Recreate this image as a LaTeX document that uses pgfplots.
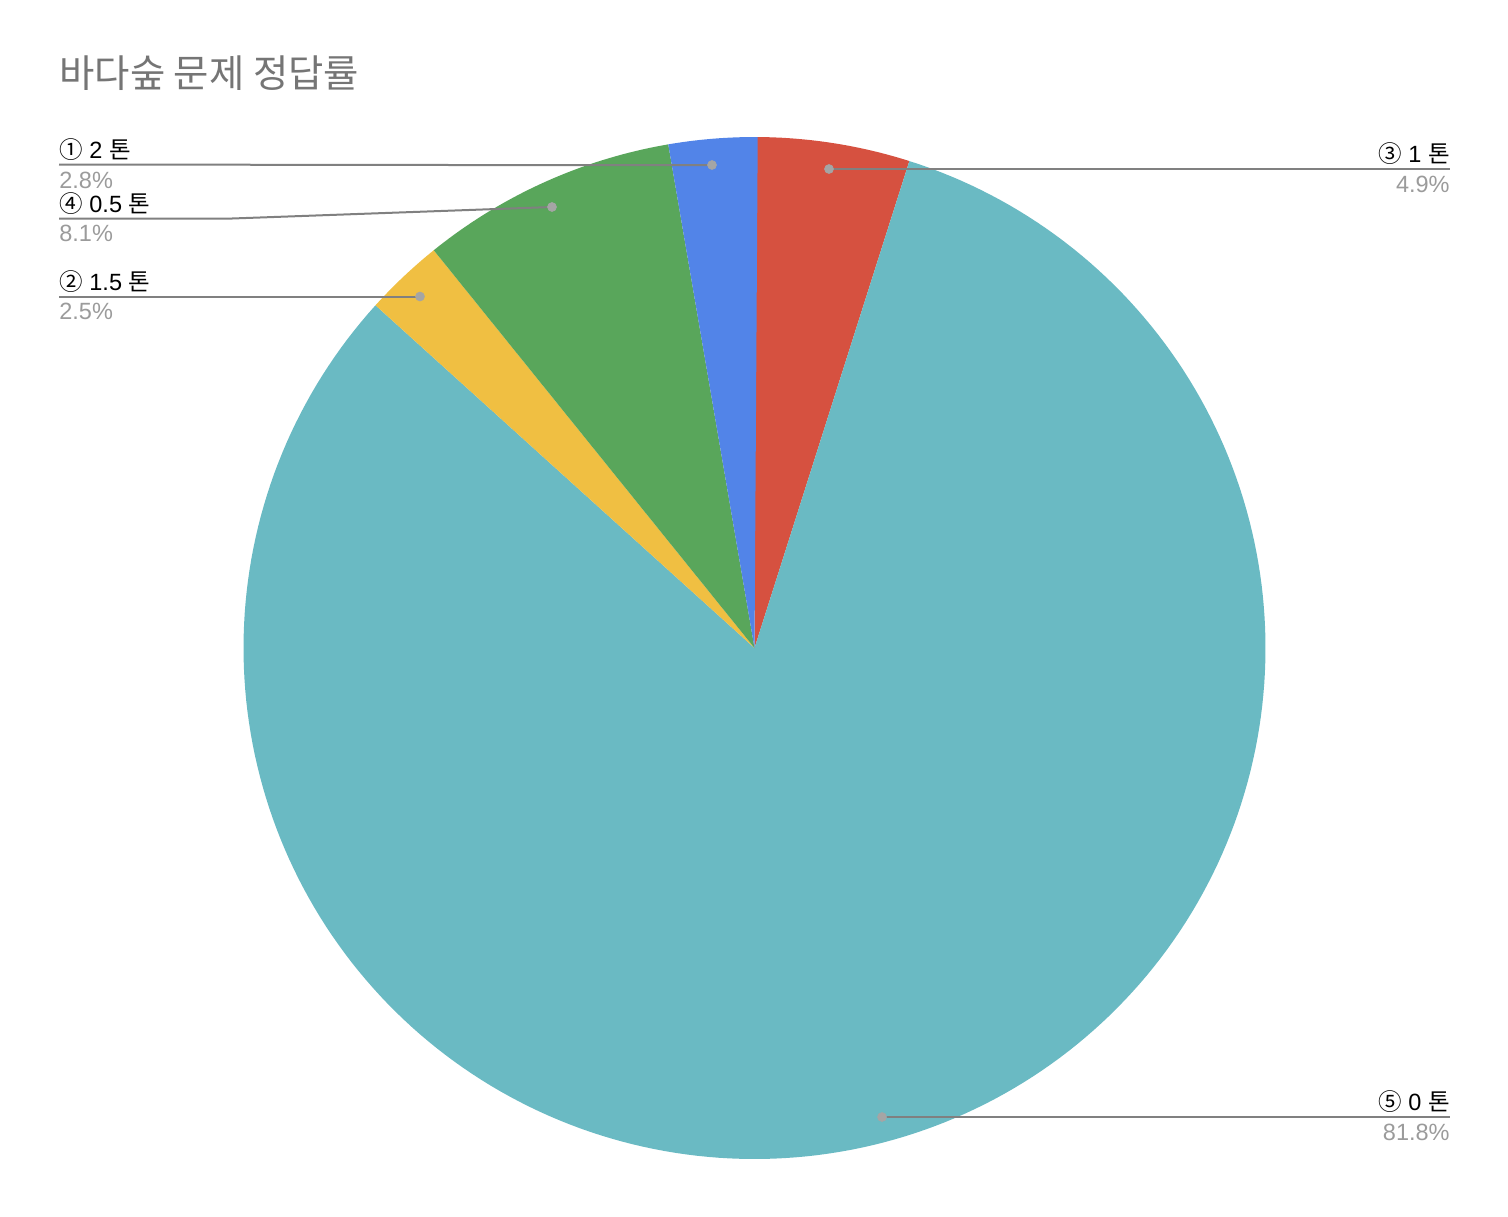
\documentclass[border=0pt]{standalone}
\usepackage{fontspec}
\setmainfont{Liberation Sans}
\newfontfamily\kr{Noto Sans CJK KR}
\usepackage{pgfplots}
\pgfplotsset{compat=1.18}

\definecolor{cRed}{RGB}{214,81,64}
\definecolor{cTeal}{RGB}{106,186,195}
\definecolor{cYellow}{RGB}{240,191,66}
\definecolor{cGreen}{RGB}{89,166,91}
\definecolor{cBlue}{RGB}{82,132,232}
\definecolor{leader}{RGB}{128,128,128}
\definecolor{dotc}{RGB}{165,165,165}
\definecolor{pctc}{RGB}{155,155,155}
\definecolor{titlec}{RGB}{117,117,117}

% shares in percent, clockwise from 12 o'clock
\def\vRed{4.9}
\def\vTeal{81.8}
\def\vYellow{2.5}
\def\vGreen{8.1}
\def\vBlue{2.8}

% slice boundary angles
\pgfmathsetmacro\aA{90}
\pgfmathsetmacro\aB{\aA-3.6*\vRed}
\pgfmathsetmacro\aC{\aB-3.6*\vTeal}
\pgfmathsetmacro\aD{\aC-3.6*\vYellow}
\pgfmathsetmacro\aE{\aD-3.6*\vGreen}
\pgfmathsetmacro\aF{\aE-3.6*\vBlue}

\newcommand\lbl{\fontsize{11.75}{14}\selectfont}

\begin{document}
\begin{tikzpicture}
\begin{axis}[
    scale only axis,
    width=754pt, height=608pt,
    xmin=0, xmax=1508, ymin=0, ymax=1216,
    y dir=reverse,
    hide axis,
    clip=false,
]
\addplot[draw=none, forget plot] coordinates {(0,0) (1508,1216)};

% slices
\addplot[fill=cRed, draw=none, domain=\aB:\aA, samples=30, variable=\t]
    ({754.5+511*cos(\t)}, {648-511*sin(\t)}) -- (axis cs:754.5,648) -- cycle;
\addplot[fill=cTeal, draw=none, domain=\aC:\aB, samples=240, variable=\t]
    ({754.5+511*cos(\t)}, {648-511*sin(\t)}) -- (axis cs:754.5,648) -- cycle;
\addplot[fill=cYellow, draw=none, domain=\aD:\aC, samples=20, variable=\t]
    ({754.5+511*cos(\t)}, {648-511*sin(\t)}) -- (axis cs:754.5,648) -- cycle;
\addplot[fill=cGreen, draw=none, domain=\aE:\aD, samples=40, variable=\t]
    ({754.5+511*cos(\t)}, {648-511*sin(\t)}) -- (axis cs:754.5,648) -- cycle;
\addplot[fill=cBlue, draw=none, domain=\aF:\aE, samples=20, variable=\t]
    ({754.5+511*cos(\t)}, {648-511*sin(\t)}) -- (axis cs:754.5,648) -- cycle;

% leader lines
\addplot[leader, line width=1pt] coordinates {(59,164.5) (455,165) (712,165)};
\addplot[leader, line width=1pt] coordinates {(59,218.5) (232,218.5) (552,207)};
\addplot[leader, line width=1pt] coordinates {(59,296.5) (420,296.5)};
\addplot[leader, line width=1pt] coordinates {(829,169) (1450,169)};
\addplot[leader, line width=1pt] coordinates {(882,1117) (1450,1117)};
\addplot[only marks, mark=*, mark size=2.2pt, dotc, mark options={draw=dotc, fill=dotc}]
    coordinates {(712,165) (552,207) (420,296.5) (829,169) (882,1117)};

% title
\node[anchor=base west, inner sep=0pt, text=titlec, font=\kr\fontsize{19.2}{23}\selectfont]
    at (axis cs:59,87) {바다숲 문제 정답률};

% labels
\node[anchor=base west, inner sep=0pt, font=\lbl] at (axis cs:59,158) {{\kr ①} 2 {\kr 톤}};
\node[anchor=base west, inner sep=0pt, font=\lbl, text=pctc] at (axis cs:59,188) {2.8\%};
\node[anchor=base west, inner sep=0pt, font=\lbl] at (axis cs:59,212) {{\kr ④} 0.5 {\kr 톤}};
\node[anchor=base west, inner sep=0pt, font=\lbl, text=pctc] at (axis cs:59,241) {8.1\%};
\node[anchor=base west, inner sep=0pt, font=\lbl] at (axis cs:59,290) {{\kr ②} 1.5 {\kr 톤}};
\node[anchor=base west, inner sep=0pt, font=\lbl, text=pctc] at (axis cs:59,319) {2.5\%};
\node[anchor=base east, inner sep=0pt, font=\lbl] at (axis cs:1450,162) {{\kr ③} 1 {\kr 톤}};
\node[anchor=base east, inner sep=0pt, font=\lbl, text=pctc] at (axis cs:1450,192) {4.9\%};
\node[anchor=base east, inner sep=0pt, font=\lbl] at (axis cs:1450,1110) {{\kr ⑤} 0 {\kr 톤}};
\node[anchor=base east, inner sep=0pt, font=\lbl, text=pctc] at (axis cs:1450,1140) {81.8\%};
\end{axis}
\end{tikzpicture}
\end{document}
